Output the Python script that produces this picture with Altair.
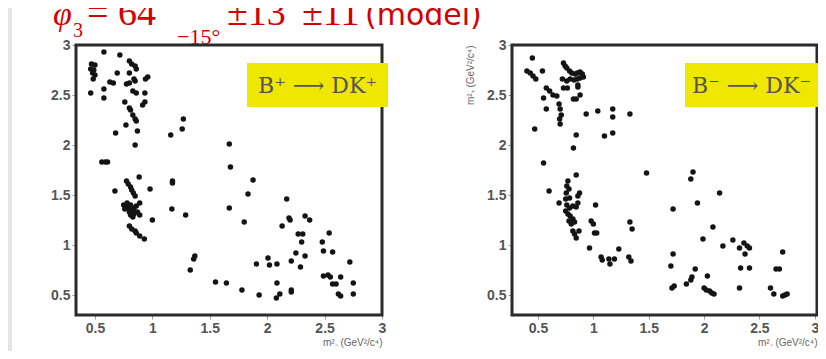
import altair as alt
import pandas as pd

# ---------------- data ----------------
bplus_x = [0.578, 0.717, 0.47, 0.50, 0.463, 0.49, 0.48, 0.50, 0.485, 0.463, 0.578, 0.578, 0.694,
           0.63, 0.66, 0.80, 0.82, 0.85, 0.86, 0.80, 0.84, 0.85, 0.775, 0.80, 0.96, 0.94, 0.86,
           0.83, 0.935, 0.935, 0.915, 0.76, 0.80, 0.81, 0.83, 0.85, 0.86, 0.77, 0.87, 0.68, 0.85,
           1.16, 1.26, 1.27, 0.56, 0.59, 0.61,
           0.674, 0.775, 0.79, 0.81, 0.82, 0.835, 0.85, 0.885, 0.98,
           0.75, 0.77, 0.79, 0.81, 0.83, 0.84, 0.86, 0.81, 0.78, 0.89, 0.76, 0.80,
           0.81, 0.83, 0.84, 0.87, 0.89,
           1.00, 0.80, 0.82, 0.85, 0.86, 0.89, 0.93,
           1.175, 1.175, 1.17, 1.29, 1.37, 1.36, 1.33, 1.55, 1.645,
           1.67, 1.68, 1.67, 1.877, 1.833, 1.80, 1.78, 1.906, 1.93, 2.007, 2.02, 2.085, 2.085,
           2.08, 2.11, 2.21, 2.21, 2.17, 2.13, 2.19, 2.20, 2.21, 2.25, 2.29, 2.27, 2.31, 2.30,
           2.33, 2.33, 2.37, 2.48, 2.54, 2.49, 2.57, 2.49, 2.53, 2.55, 2.57, 2.60, 2.64, 2.62,
           2.64, 2.72, 2.75, 2.75]
bplus_y = [2.93, 2.90, 2.81, 2.80, 2.76, 2.75, 2.72, 2.70, 2.66, 2.52, 2.56, 2.47, 2.72,
           2.63, 2.62, 2.84, 2.81, 2.79, 2.76, 2.72, 2.66, 2.64, 2.61, 2.62, 2.68, 2.66, 2.52,
           2.54, 2.52, 2.43, 2.40, 2.43, 2.37, 2.35, 2.30, 2.26, 2.24, 2.20, 2.14, 2.12, 2.00,
           2.10, 2.16, 2.26, 1.83, 1.83, 1.83,
           1.54, 1.64, 1.61, 1.58, 1.55, 1.52, 1.49, 1.68, 1.56,
           1.40, 1.38, 1.37, 1.35, 1.34, 1.37, 1.39, 1.40, 1.42, 1.42, 1.36, 1.33,
           1.30, 1.28, 1.31, 1.33, 1.30,
           1.25, 1.19, 1.16, 1.14, 1.12, 1.09, 1.06,
           1.64, 1.62, 1.36, 1.30, 0.89, 0.86, 0.75, 0.63, 0.62,
           2.01, 1.78, 1.37, 1.65, 1.51, 1.23, 0.55, 0.81, 0.50, 0.87, 0.80, 0.81, 0.62,
           0.47, 0.51, 0.55, 0.53, 1.46, 1.19, 1.27, 1.25, 0.84, 0.92, 0.78, 1.11, 1.11, 1.03,
           0.89, 1.29, 1.25, 1.03, 1.12, 0.94, 0.93, 0.69, 0.70, 0.68, 0.61, 0.61, 0.68, 0.51,
           0.49, 0.83, 0.62, 0.51]

bminus_x = [0.449, 0.40, 0.43, 0.455, 0.48, 0.54, 0.47, 0.575, 0.55, 0.575, 0.605, 0.635, 0.67,
            0.73, 0.745, 0.76, 0.785, 0.805, 0.835, 0.855, 0.88, 0.90,
            0.72, 0.76, 0.79, 0.825, 0.855, 0.73, 0.765, 0.88, 0.91, 0.86, 0.86,
            0.82, 0.845, 0.88, 0.69, 0.70, 0.71, 0.695, 0.70, 0.845, 0.82,
            0.935, 1.04, 1.10, 1.175, 1.175, 1.175, 1.33,
            0.55, 0.60, 0.69, 0.77, 0.76, 0.78, 0.755, 0.785, 0.75, 0.845, 0.875, 0.86,
            0.76, 0.785, 0.815, 0.845, 0.86,
            0.75, 0.77, 0.79, 0.815, 0.78, 0.80, 0.83,
            0.815, 0.83, 0.845, 0.87,
            1.02, 0.98, 1.00, 1.01, 1.03, 0.965, 1.07, 1.08, 1.14, 1.15, 1.19, 1.23,
            1.33, 1.35, 1.32, 1.34,
            1.48, 1.72, 1.72, 1.70, 1.71, 1.73, 1.84, 1.89, 1.88, 1.90, 1.88, 1.94, 1.92, 1.99,
            2.03, 2.00, 2.02, 2.05, 2.07, 2.09, 2.08, 2.14, 2.17, 2.26, 2.32, 2.36, 2.39, 2.41,
            2.37, 2.33, 2.41, 2.32, 2.60, 2.63, 2.65, 2.68, 2.71, 2.71, 2.73, 2.75]
bminus_y = [2.87, 2.74, 2.72, 2.69, 2.66, 2.74, 2.16, 2.57, 2.47, 2.36, 2.54, 2.50, 2.49,
            2.82, 2.79, 2.77, 2.74, 2.72, 2.71, 2.72, 2.73, 2.71,
            2.66, 2.64, 2.66, 2.65, 2.66, 2.57, 2.57, 2.67, 2.68, 2.60, 2.58,
            2.46, 2.46, 2.50, 2.41, 2.36, 2.30, 2.26, 2.21, 2.10, 1.97,
            2.31, 2.34, 2.09, 2.36, 2.28, 2.12, 2.31,
            1.82, 1.54, 1.42, 1.64, 1.59, 1.56, 1.52, 1.47, 1.46, 1.70, 1.52, 1.49,
            1.40, 1.37, 1.39, 1.38, 1.42,
            1.34, 1.31, 1.29, 1.26, 1.24, 1.21, 1.23,
            1.14, 1.11, 1.07, 1.14,
            1.40, 1.24, 1.21, 1.12, 1.12, 0.97, 0.88, 0.85, 0.86, 0.81, 0.86, 0.96,
            1.23, 1.16, 0.88, 0.84,
            1.72, 1.36, 0.91, 0.79, 0.57, 0.59, 0.61, 0.68, 0.65, 1.73, 1.66, 1.42, 0.76, 1.06,
            0.69, 0.57, 0.55, 0.54, 0.52, 0.51, 1.18, 1.52, 0.99, 1.05, 0.97, 1.02, 0.99, 0.97,
            0.91, 0.77, 0.77, 0.57, 0.57, 0.51, 0.76, 0.76, 0.93, 0.49, 0.50, 0.51]

tick_values = [0.5, 1, 1.5, 2, 2.5, 3]
panel_labels = ["B⁺ ⟶ DK⁺", "B⁻ ⟶ DK⁻"]
x_titles = ["m²₋ (GeV²/c⁴)", "m²₋ (GeV²/c⁴)"]
y_title_right = "m²₊ (GeV²/c⁴)"
title_parts = ["φ", "3", "= 64", "−15°", "±13", "±11", "(model)"]

W, H = 810, 343
Y_TOP, Y_BOT = 37, 307
LEFT_PANEL = (68, 374)
RIGHT_PANEL = (504, 809)

df_plus = pd.DataFrame({"x": bplus_x, "y": bplus_y})
df_minus = pd.DataFrame({"x": bminus_x, "y": bminus_y})

LABEL_FONT = "Liberation Sans"


def scatter(df, xdom, xr, xtitle, ytitle):
    yaxis_kw = dict(orient="left", offset=-xr[0], values=tick_values, format="~g",
                    domain=False, grid=False, ticks=True, tickSize=4, tickColor="#999",
                    labelPadding=2, labelFontSize=14, labelFontWeight="bold",
                    labelColor="#555", labelFont=LABEL_FONT)
    if ytitle:
        yaxis_kw.update(title=ytitle, titleAnchor="end", titleFontSize=10,
                        titleFontWeight="normal", titleColor="#666", titlePadding=11,
                        titleFont=LABEL_FONT)
    else:
        yaxis_kw.update(title=None)
    return alt.Chart(df).mark_circle(size=30, color="#141414", opacity=1).encode(
        x=alt.X("x:Q",
                scale=alt.Scale(domain=xdom, range=list(xr), nice=False, zero=False),
                axis=alt.Axis(orient="bottom", offset=Y_BOT - H, values=tick_values,
                              format="~g", domain=False, grid=False, ticks=True,
                              tickSize=4, tickColor="#999", labelPadding=2,
                              labelFontSize=14, labelFontWeight="bold", labelColor="#555",
                              labelFont=LABEL_FONT, labelFlush=False,
                              title=xtitle, titleAnchor="end", titleFontSize=10,
                              titleFontWeight="normal", titleColor="#666",
                              titlePadding=2, titleFont=LABEL_FONT)),
        y=alt.Y("y:Q",
                scale=alt.Scale(domain=[0.3, 3], range=[Y_BOT, Y_TOP], nice=False, zero=False),
                axis=alt.Axis(**yaxis_kw)),
    )


one = pd.DataFrame({"k": [0]})


def frame(xr):
    return alt.Chart(one).mark_rect(filled=False, stroke="#2b2b2b", strokeWidth=3).encode(
        x=alt.value(xr[0]), x2=alt.value(xr[1]), y=alt.value(Y_TOP), y2=alt.value(Y_BOT))


def label_box(x0, x1, text):
    box = alt.Chart(one).mark_rect(color="#f0e700").encode(
        x=alt.value(x0), x2=alt.value(x1), y=alt.value(55), y2=alt.value(99))
    txt = alt.Chart(pd.DataFrame({"t": [text]})).mark_text(
        font="DejaVu Serif", fontSize=22, color="#555", align="center", baseline="middle"
    ).encode(x=alt.value((x0 + x1) / 2), y=alt.value(78), text="t:N")
    return box, txt


def red_text(text, x, y, size, font="Liberation Serif", style="normal"):
    return alt.Chart(pd.DataFrame({"t": [text]})).mark_text(
        font=font, fontSize=size, color="#d40000", align="left", baseline="alphabetic",
        fontStyle=style
    ).encode(x=alt.value(x), y=alt.value(y), text="t:N")


strip = alt.Chart(one).mark_rect(color="#e4e4e4").encode(
    x=alt.value(0), x2=alt.value(4), y=alt.value(0), y2=alt.value(H))

left_pts = scatter(df_plus, [0.335, 3.0], LEFT_PANEL, x_titles[0], None)
right_pts = scatter(df_minus, [0.265, 3.02], RIGHT_PANEL, x_titles[1], y_title_right)

b1, t1 = label_box(239, 380, panel_labels[0])
b2, t2 = label_box(677, 810, panel_labels[1])

titles = [
    red_text(title_parts[0], 45, 17, 34, style="italic"),
    red_text(title_parts[1], 65, 29, 20),
    red_text(title_parts[2], 79, 17, 38),
    red_text(title_parts[3], 169, 36, 22),
    red_text(title_parts[4], 219, 17, 38),
    red_text(title_parts[5], 294, 17, 38),
    red_text(title_parts[6], 357, 17, 30, font="DejaVu Sans"),
]

chart = alt.layer(
    strip, left_pts, right_pts, frame(LEFT_PANEL), frame(RIGHT_PANEL),
    b1, t1, b2, t2, *titles
).resolve_scale(x="independent", y="independent").resolve_axis(
    x="independent", y="independent"
).properties(
    width=W, height=H, padding=0, autosize=alt.AutoSizeParams(type="none"),
    background="white"
).configure_view(stroke=None)

chart.save("out.html", embed_options={"renderer": "svg", "actions": False})
